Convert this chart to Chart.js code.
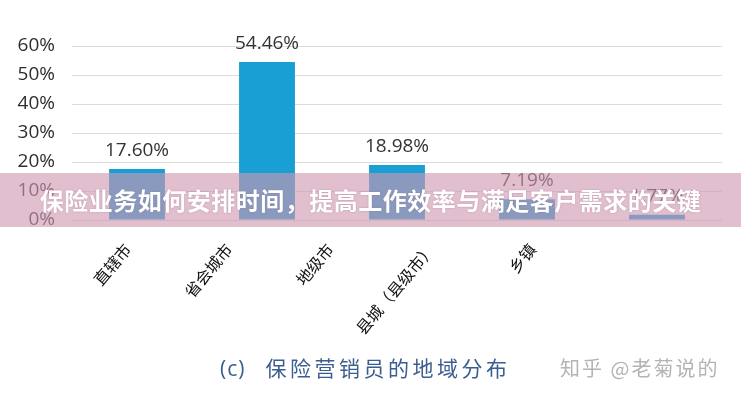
<!DOCTYPE html>
<html>
<head>
<meta charset="utf-8">
<script src="https://cdn.jsdelivr.net/npm/chart.js@4/dist/chart.umd.min.js"></script>
<style>
  html, body { margin: 0; padding: 0; background: #fff; }
  #wrap { position: relative; width: 741px; height: 400px; overflow: hidden; }
  #banner {
    position: absolute; left: 0; top: 173px; width: 741px; height: 54px;
    background: rgba(208, 152, 177, 0.62);
    color: #fff; font: bold 24px "Noto Sans CJK SC", sans-serif;
    text-align: center; line-height: 54px; letter-spacing: 0.5px;
    text-shadow: 0 0 2px rgba(120, 80, 100, 0.4);
  }
  #caption {
    position: absolute; left: 220px; top: 352px;
    color: #3b5e90; font: 21px "Noto Sans CJK SC", sans-serif; letter-spacing: 3.5px;
  }
  #caption span { margin-right: 20px; font-family: "Open Sans", sans-serif; letter-spacing: 1px; }
  #mark {
    position: absolute; left: 560px; top: 353px;
    color: #b4b4b4; font: 20px "Noto Sans CJK SC", sans-serif; letter-spacing: 2px;
  }
</style>
</head>
<body>
<div id="wrap">
  <canvas id="grafica" width="741" height="400"></canvas>
  <div id="banner">保险业务如何安排时间，提高工作效率与满足客户需求的关键</div>
  <div id="caption"><span>(c)</span>保险营销员的地域分布</div>
  <div id="mark">知乎 @老菊说的</div>
</div>
<script>
  const categorias = ['直辖市', '省会城市', '地级市', '县城（县级市）', '乡镇'];
  const porcentajes = [17.60, 54.46, 18.98, 7.19, 1.77];
  const marcasEje = [0, 10, 20, 30, 40, 50, 60];

  // etiquetas de valor encima de cada barra
  const etiquetasValor = {
    id: 'etiquetasValor',
    afterDatasetsDraw(chart) {
      const ctx = chart.ctx;
      const meta = chart.getDatasetMeta(0);
      ctx.save();
      ctx.fillStyle = '#333';
      ctx.font = '19px "Open Sans", sans-serif';
      ctx.textAlign = 'center';
      ctx.textBaseline = 'bottom';
      meta.data.forEach((barra, i) => {
        ctx.fillText(porcentajes[i].toFixed(2) + '%', barra.x, barra.y - 9);
      });
      ctx.restore();
    }
  };

  document.addEventListener('DOMContentLoaded', () => {
    const ctx = document.getElementById('grafica').getContext('2d');
    new Chart(ctx, {
      type: 'bar',
      data: {
        labels: categorias,
        datasets: [{
          data: porcentajes,
          backgroundColor: '#1a9fd4',
          barPercentage: 0.43,
          categoryPercentage: 1
        }]
      },
      options: {
        responsive: false,
        animation: false,
        layout: { padding: { top: 46, right: 19, left: 0, bottom: 0 } },
        plugins: { legend: { display: false }, tooltip: { enabled: false } },
        scales: {
          x: { display: false },
          // en el original las etiquetas van más juntas que las barras
          ejeNombres: {
            type: 'linear',
            position: 'bottom',
            offset: false,
            min: -0.55, max: 5.87,
            grid: { display: false },
            border: { display: false },
            afterFit: s => { s.height = 180; },
            afterBuildTicks: s => { s.ticks = categorias.map((c, i) => ({ value: i })); },
            ticks: {
              minRotation: 50, maxRotation: 50, padding: 12,
              color: '#111',
              font: { family: '"Noto Sans CJK SC", sans-serif', size: 16 },
              callback: v => categorias[v]
            }
          },
          y: {
            min: 0, max: 60,
            afterFit: s => { s.width = 72; },
            afterBuildTicks: s => { s.ticks = marcasEje.map(v => ({ value: v })); },
            grid: { color: '#dcdcdc', drawTicks: false },
            border: { display: false },
            ticks: {
              padding: 17,
              color: '#2e2e2e',
              font: { family: '"Open Sans", sans-serif', size: 19 },
              callback: v => v + '%'
            }
          }
        }
      },
      plugins: [etiquetasValor]
    });
  });
</script>
</body>
</html>
